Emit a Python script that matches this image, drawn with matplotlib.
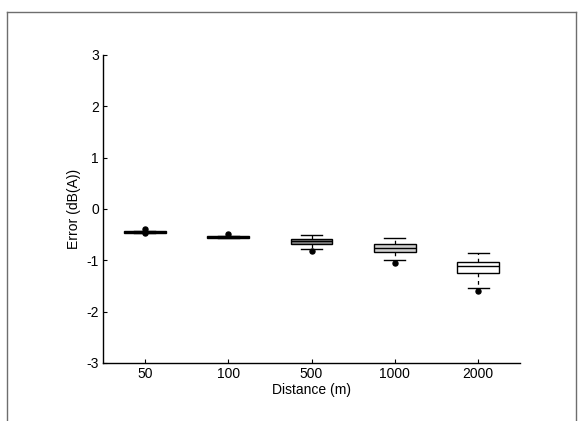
import matplotlib
matplotlib.use("Agg")
import matplotlib.pyplot as plt
from matplotlib.lines import Line2D

plt.rcParams['font.family'] = ['Liberation Sans', 'DejaVu Sans']
plt.rcParams['axes.unicode_minus'] = False

categories = ['50', '100', '500', '1000', '2000']
medians = [-0.44, -0.54, -0.62, -0.75, -1.12]
q1 = [-0.46, -0.565, -0.68, -0.83, -1.25]
q3 = [-0.42, -0.52, -0.59, -0.69, -1.04]
whis_lo = [-0.46, -0.565, -0.785, -1.00, -1.54]
whis_hi = [-0.42, -0.52, -0.51, -0.57, -0.85]
fliers = [[-0.395, -0.475], [-0.49], [-0.81], [-1.05], [-1.59]]
fill_colors = ['#2a2a2a', '#505050', '#8a8a8a', '#cfcfcf', '#ffffff']

stats = []
for i, c in enumerate(categories):
    stats.append(dict(med=medians[i], q1=q1[i], q3=q3[i],
                      whislo=whis_lo[i], whishi=whis_hi[i],
                      fliers=fliers[i], label=c))

fig = plt.figure(figsize=(5.82, 4.21), dpi=100)
ax = fig.add_axes([103/582, (421-363)/421, (520-103)/582, (363-55)/421])

positions = list(range(1, len(categories) + 1))
bp = ax.bxp(stats, positions=positions, widths=0.5, patch_artist=True,
            boxprops=dict(edgecolor='black', linewidth=1.0),
            medianprops=dict(color='black', linewidth=1.0),
            whiskerprops=dict(color='black', linewidth=0.9, linestyle=(0, (3, 3))),
            capprops=dict(color='black', linewidth=1.0),
            capwidths=0.25,
            flierprops=dict(marker='o', markerfacecolor='black',
                            markeredgecolor='black', markersize=3.6, linestyle='none'))
for patch, col in zip(bp['boxes'], fill_colors):
    patch.set_facecolor(col)

ax.set_xlim(0.5, 5.5)
ax.set_ylim(-3, 3)
ax.set_yticks([-3, -2, -1, 0, 1, 2, 3])
ax.set_xticks(positions)
ax.set_xticklabels(categories)
ax.spines['top'].set_visible(False)
ax.spines['right'].set_visible(False)
for s in ['left', 'bottom']:
    ax.spines[s].set_linewidth(1.0)
ax.tick_params(direction='in', length=3, width=0.8, labelsize=10, pad=3)
ax.set_xlabel('Distance (m)', fontsize=10, labelpad=1)
ax.set_ylabel('Error (dB(A))', fontsize=10, labelpad=4)

# outer figure frame (gray)
fr = '#6e6e6e'
fig.add_artist(Line2D([7/582, 7/582], [0, 1 - 12/421], color=fr, lw=1.0, transform=fig.transFigure))
fig.add_artist(Line2D([7/582, 576/582], [1 - 12/421, 1 - 12/421], color=fr, lw=1.0, transform=fig.transFigure))
fig.add_artist(Line2D([576/582, 576/582], [0, 1 - 12/421], color=fr, lw=1.0, transform=fig.transFigure))

fig.savefig('out.png', dpi=100)
